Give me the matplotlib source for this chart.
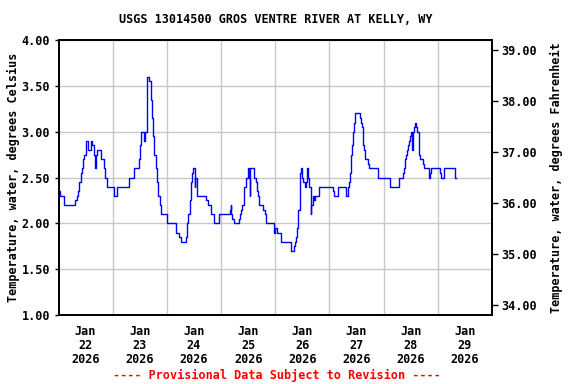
import matplotlib
matplotlib.use("Agg")
import matplotlib.pyplot as plt
import matplotlib.ticker as mticker
import pandas as pd

# ---- data: change points (hours after 2026-01-22 00:00) and water temperature (deg C)
hours = [0.0, 0.75, 2.25, 7.5, 8.0, 8.75, 9.25, 9.75, 10.5, 11.0, 11.5, 12.0, 12.25, 13.0,
         13.25, 14.5, 15.0, 15.75, 16.25, 16.5, 16.75, 17.25, 18.75, 20.0, 20.75, 21.5,
         24.75, 26.0, 31.25, 33.5, 35.5, 36.0, 36.5, 38.0, 38.5, 39.0, 40.25, 40.75, 41.25,
         41.75, 42.0, 42.5, 43.0, 43.5, 44.0, 44.25, 44.75, 45.5, 48.25, 52.0, 53.5, 54.25,
         56.5, 57.0, 57.5, 58.25, 58.75, 59.0, 59.75, 60.25, 60.5, 61.5, 65.5, 66.0, 67.5,
         69.0, 71.0, 75.75, 76.25, 76.5, 77.0, 77.75, 80.0, 80.5, 81.0, 81.25, 82.0, 82.25,
         83.25, 83.75, 84.5, 84.75, 85.0, 86.5, 87.25, 87.75, 88.0, 88.5, 89.0, 90.5, 91.25,
         91.75, 95.5, 96.0, 96.75, 98.5, 103.0, 104.25, 104.75, 105.25, 105.75, 106.0,
         106.75, 107.25, 107.75, 108.5, 109.25, 109.75, 110.25, 110.5, 110.75, 111.75, 112.0,
         112.5, 113.25, 113.75, 115.25, 121.75, 122.0, 124.0, 127.25, 128.25, 128.75, 129.0,
         129.5, 130.0, 130.5, 130.75, 131.25, 133.5, 134.0, 134.5, 134.75, 135.25, 135.75,
         137.0, 137.5, 141.5, 146.75, 150.75, 152.5, 153.0, 153.5, 154.0, 154.25, 154.75,
         155.25, 155.75, 156.25, 156.75, 157.0, 157.5, 158.0, 158.5, 158.75, 159.75, 160.25,
         161.5, 162.0, 164.25, 164.5, 165.0, 169.0, 169.5, 170.75, 175.75, 176.25]
temps = [2.35, 2.3, 2.2, 2.25, 2.3, 2.35, 2.45, 2.55, 2.6, 2.7, 2.75, 2.8, 2.9, 2.85,
         2.8, 2.9, 2.85, 2.75, 2.6, 2.65, 2.75, 2.8, 2.7, 2.6, 2.5, 2.4,
         2.3, 2.4, 2.5, 2.6, 2.7, 2.85, 3.0, 2.9, 3.0, 3.6, 3.55, 3.35, 3.15,
         3.0, 2.95, 2.75, 2.6, 2.45, 2.35, 2.3, 2.2, 2.1, 2.0, 1.9, 1.85, 1.8,
         1.85, 2.0, 2.1, 2.25, 2.45, 2.55, 2.6, 2.4, 2.5, 2.3, 2.25, 2.2, 2.1,
         2.0, 2.1, 2.15, 2.2, 2.1, 2.05, 2.0, 2.05, 2.1, 2.15, 2.2, 2.3, 2.4,
         2.5, 2.6, 2.5, 2.3, 2.6, 2.5, 2.45, 2.4, 2.35, 2.3, 2.2, 2.15, 2.1,
         2.0, 1.9, 1.95, 1.9, 1.8, 1.7, 1.75, 1.8, 1.85, 1.95, 2.15,
         2.55, 2.6, 2.5, 2.45, 2.4, 2.45, 2.6, 2.5, 2.4, 2.1, 2.2,
         2.3, 2.25, 2.3, 2.4, 2.35, 2.3, 2.4, 2.3, 2.4, 2.45, 2.55,
         2.75, 2.85, 3.0, 3.1, 3.2, 3.15, 3.1, 3.05, 2.85, 2.8, 2.7,
         2.65, 2.6, 2.5, 2.4, 2.5, 2.55, 2.6, 2.7, 2.75, 2.8, 2.85,
         2.9, 2.95, 3.0, 2.8, 3.0, 3.05, 3.1, 3.05, 3.0, 2.75, 2.7,
         2.65, 2.6, 2.5, 2.55, 2.6, 2.55, 2.5, 2.6, 2.5, 2.5]

start = "2026-01-22"
day_labels = ["Jan\n22\n2026", "Jan\n23\n2026", "Jan\n24\n2026", "Jan\n25\n2026",
              "Jan\n26\n2026", "Jan\n27\n2026", "Jan\n28\n2026", "Jan\n29\n2026"]
title = "USGS 13014500 GROS VENTRE RIVER AT KELLY, WY"
ylabel_left = "Temperature, water, degrees Celsius"
ylabel_right = "Temperature, water, degrees Fahrenheit"
footer = "---- Provisional Data Subject to Revision ----"

FONT = "DejaVu Sans Mono"
plt.rcParams["font.family"] = FONT
plt.rcParams["font.weight"] = "bold"
FS = 8.5

t0 = pd.Timestamp(start)
times = t0 + pd.to_timedelta(hours, unit="h")

fig = plt.figure(figsize=(5.76, 3.84), dpi=100)
ax = fig.add_axes([0.1016, 0.1797, 0.7526, 0.7161])

ax.plot(times, temps, drawstyle="steps-post", color="#0000FF", lw=1.0, zorder=3)

ax.set_xlim(t0, t0 + pd.Timedelta(days=8))
ax.set_ylim(1.0, 4.0)

# x axis: gridlines at midnight, labels at noon
major = [t0 + pd.Timedelta(days=d) for d in range(1, 8)]
minor = [t0 + pd.Timedelta(days=d, hours=12) for d in range(8)]
ax.set_xticks(major)
ax.set_xticklabels([])
ax.set_xticks(minor, minor=True)
ax.set_xticklabels(day_labels, minor=True, fontsize=FS, fontweight="bold",
                   linespacing=1.12)
ax.tick_params(axis="x", which="both", length=0, pad=7)

ax.yaxis.set_major_locator(mticker.MultipleLocator(0.5))
ax.yaxis.set_major_formatter(mticker.FormatStrFormatter("%.2f"))
ax.tick_params(axis="y", length=3, width=1, pad=3, labelsize=FS)
for lab in ax.get_yticklabels():
    lab.set_fontweight("bold")

ax.grid(True, which="major", color="#C8C8C8", lw=1.0, zorder=0)
for s in ax.spines.values():
    s.set_linewidth(1.3)
    s.set_color("black")

ax.set_ylabel(ylabel_left, fontsize=FS, fontweight="bold", labelpad=1)
ax.set_title(title, fontsize=FS, fontweight="bold", pad=12)

# right axis in Fahrenheit
ax2 = ax.twinx()
c2f = lambda c: c * 9.0 / 5.0 + 32.0
ax2.set_ylim(c2f(1.0), c2f(4.0))
ax2.yaxis.set_major_locator(mticker.MultipleLocator(1.0))
ax2.yaxis.set_major_formatter(mticker.FormatStrFormatter("%.2f"))
ax2.tick_params(axis="y", length=4, width=1, pad=3, labelsize=FS)
for lab in ax2.get_yticklabels():
    lab.set_fontweight("bold")
ax2.set_ylabel(ylabel_right, fontsize=FS, fontweight="bold", labelpad=9)
for s in ax2.spines.values():
    s.set_linewidth(1.3)

fig.text(0.48, 0.006, footer, color="#FF0000", fontsize=FS, fontweight="bold",
         ha="center", va="bottom")

fig.savefig("out.png", dpi=100)
